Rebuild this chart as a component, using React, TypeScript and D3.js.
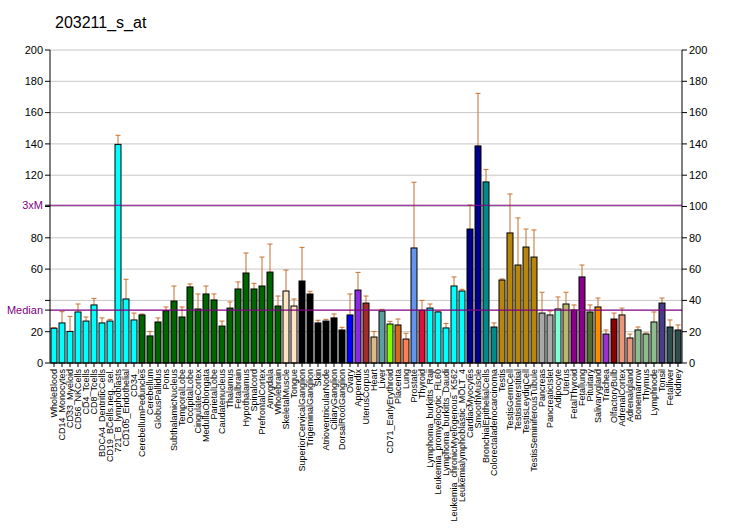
import React from "react";
import * as d3 from "d3";

const title = "203211_s_at";

const categories = [
  "WholeBlood", "CD14_Monocytes", "CD33_Myeloid", "CD56_NKCells", "CD4_Tcells", "CD8_Tcells",
  "BDCA4_DentriticCells", "CD19_BCells.neg._sel.", "721_B_lymphoblasts", "CD105_Endothelial", "CD34_",
  "CerebellumPeduncles", "Cerebellum", "GlobusPallidus", "Pons", "SubthalamicNucleus", "TemporalLobe",
  "OccipitalLobe", "CingulateCortex", "MedullaOblongata", "ParietalLobe", "Caudatenucleus", "Thalamus",
  "Fetalbrain", "Hypothalamus", "Spinalcord", "PrefrontalCortex", "Amygdala", "Wholebrain",
  "SkeletalMuscle", "Tongue", "SuperiorCervicalGanglion", "TrigeminalGanglion", "Skin",
  "AtrioventricularNode", "CiliaryGanglion", "DorsalRootGanglion", "Ovary", "Appendix", "UterusCorpus",
  "Heart", "Liver", "CD71_EarlyErythroid", "Placenta", "Lung", "Prostate", "Thyroid",
  "Lymphoma_burkitts_Raji", "Leukemia_promyelocytic_HL60", "Lymphoma_burkitts_Daudi",
  "Leukemia_chronicMyelogenous_K562", "Leukemialymphoblastic_MOLT_4", "CardiacMyocytes", "SmoothMuscle",
  "BronchialEpithelialCells", "Colorectaladenocarcinoma", "Testis", "TestisGermCell", "TestisInterstitial",
  "TestisLeydigCell", "TestisSeminiferousTubule", "Pancreas", "PancreaticIslet", "Adipocyte", "Uterus",
  "FetalThyroid", "Fetallung", "Pituitary", "Salivarygland", "Trachea", "OlfactoryBulb", "AdrenalCortex",
  "Adrenalgland", "Bonemarrow", "Thymus", "Lymphnode", "Tonsil", "Fetalliver", "Kidney",
];

const values = [
  22.2, 25.6, 20.2, 32.6, 26.8, 37.1, 25.6, 26.8, 139.7, 40.9, 27.5,
  30.7, 17.3, 26.2, 33.4, 39.6, 29.4, 48.6, 34.5, 44.1, 40.3, 23.6, 35.1,
  47.3, 57.5, 47.3, 49.2, 58.1, 36.4,
  46.0, 36.4, 52.4, 44.1, 25.6, 26.8, 28.8, 21.1, 30.7, 46.6, 38.3,
  16.6, 33.2, 24.9, 24.3, 15.3, 73.5, 33.7,
  35.1, 32.6, 22.4, 49.2, 46.0, 85.6, 138.7, 115.7, 23.0,
  53.0, 83.1, 62.6, 74.1, 67.7, 31.9, 30.7, 34.5, 37.7,
  33.9, 55.0, 32.6, 35.8, 18.5, 28.1, 30.7, 16.0, 21.1, 18.5, 26.2, 38.3, 23.0, 21.1,
];

const errorTops = [
  22.6, 32.8, 29.8, 37.7, 29.4, 41.3, 28.8, 27.9, 145.5, 53.5, 31.9,
  31.3, 20.2, 28.8, 35.8, 49.2, 35.8, 50.5, 44.1, 49.2, 44.1, 26.8, 39.0,
  51.8, 70.3, 50.9, 67.7, 76.0, 42.8,
  59.4, 40.9, 73.9, 45.8, 27.3, 27.9, 31.3, 22.8, 44.1, 57.9, 42.8,
  20.2, 34.3, 26.6, 28.1, 19.0, 115.5, 40.0,
  37.7, 33.0, 25.3, 55.0, 47.1, 100.9, 172.3, 123.7, 25.6,
  53.7, 108.0, 92.7, 85.6, 85.0, 45.2, 33.2, 42.2, 45.2,
  37.1, 62.6, 37.1, 41.5, 21.1, 31.9, 35.1, 18.5, 23.0, 19.2, 32.6, 41.5, 27.5, 24.3,
];

const colors = [
  ...Array(11).fill("#00FFFF"),
  ...Array(18).fill("#006400"),
  "#FFE4C4", "#FFE4C4",
  ...Array(6).fill("#000000"),
  "#0000FF", "#8A2BE2", "#A52A2A", "#DEB887", "#5F9EA0", "#7FFF00", "#D2691E", "#FF7F50", "#6495ED", "#DC143C",
  ...Array(5).fill("#00FFFF"),
  "#00008B", "#00008B", "#008B8B", "#008B8B",
  ...Array(5).fill("#B8860B"),
  "#A9A9A9", "#A9A9A9", "#7FFFD4", "#BDB76B", "#8B008B", "#8B008B", "#556B2F", "#FF8C00", "#9932CC", "#8B0000",
  "#E9967A", "#E9967A", "#8FBC8F", "#8FBC8F", "#8FBC8F", "#483D8B", "#2F4F4F", "#2F4F4F",
];

const yTicks = [0, 20, 40, 60, 80, 100, 120, 140, 160, 180, 200];
const medianValue = 33.8;
const threeXMValue = 100.8;

const W = 732, H = 530;
const left = 50, right = 682, top = 50, bottom = 363;
const FONT = "Arial, 'Liberation Sans', sans-serif";

export default function App() {
  const x = d3.scaleBand<string>().domain(categories).range([left, right]).paddingInner(0.2).paddingOuter(0.1);
  const y = d3.scaleLinear().domain([0, 200]).range([bottom, top]);
  const slot = (right - left) / categories.length;
  const purple = "#800080";
  const errColor = "#C8702F";

  const leftLabel = (t: number) => {
    if (t === 40) return null;
    if (t === 100) return null;
    return String(t);
  };

  return (
    <svg width={W} height={H} style={{ position: "absolute", left: 0, top: 0, background: "#fff" }}
      xmlns="http://www.w3.org/2000/svg">
      <rect x={0} y={0} width={W} height={H} fill="#fff" />
      <text x={55} y={28} fontFamily={FONT} fontSize={16} fill="#000">{title}</text>

      {/* grid */}
      {yTicks.map((t) => (
        <line key={"g" + t} x1={left} x2={right} y1={y(t)} y2={y(t)} stroke="#C8C8C8" strokeWidth={1} />
      ))}

      {/* bars */}
      {categories.map((c, i) => {
        const cx = left + slot * (i + 0.5);
        const bw = slot - 2;
        return (
          <g key={c}>
            <line x1={cx} x2={cx} y1={y(values[i])} y2={y(errorTops[i])} stroke={errColor} strokeWidth={1} />
            <line x1={cx - 2.5} x2={cx + 2.5} y1={y(errorTops[i])} y2={y(errorTops[i])} stroke={errColor} strokeWidth={1} />
            <rect x={cx - bw / 2} y={y(values[i])} width={bw} height={bottom - y(values[i])}
              fill={colors[i]} stroke="#000" strokeWidth={1} />
          </g>
        );
      })}

      {/* reference lines */}
      <line x1={left} x2={right} y1={y(threeXMValue)} y2={y(threeXMValue)} stroke={purple} strokeWidth={1.2} />
      <line x1={left} x2={right} y1={y(medianValue)} y2={y(medianValue)} stroke={purple} strokeWidth={1.2} />

      {/* left axis */}
      <line x1={left} x2={left} y1={top} y2={bottom} stroke="#000" />
      {yTicks.map((t) => (
        <g key={"l" + t}>
          <line x1={left - 5} x2={left} y1={y(t)} y2={y(t)} stroke="#000" />
          {leftLabel(t) && (
            <text x={left - 7} y={y(t)} dy="0.35em" textAnchor="end" fontFamily={FONT} fontSize={11} fill="#000">
              {leftLabel(t)}
            </text>
          )}
        </g>
      ))}
      <line x1={left - 5} x2={left} y1={y(threeXMValue)} y2={y(threeXMValue)} stroke="#000" />
      <text x={left - 7} y={y(threeXMValue)} dy="0.35em" textAnchor="end" fontFamily={FONT} fontSize={11} fill={purple}>3xM</text>
      <line x1={left - 5} x2={left} y1={y(medianValue)} y2={y(medianValue)} stroke="#000" />
      <text x={left - 7} y={y(medianValue)} dy="0.35em" textAnchor="end" fontFamily={FONT} fontSize={11} fill={purple}>Median</text>

      {/* right axis */}
      <line x1={right} x2={right} y1={top} y2={bottom} stroke="#000" />
      {yTicks.map((t) => (
        <g key={"r" + t}>
          <line x1={right} x2={right + 5} y1={y(t)} y2={y(t)} stroke="#000" />
          <text x={right + 7} y={y(t)} dy="0.35em" textAnchor="start" fontFamily={FONT} fontSize={11} fill="#000">{t}</text>
        </g>
      ))}

      {/* x axis */}
      <line x1={left} x2={right} y1={bottom} y2={bottom} stroke="#000" />
      {categories.map((c, i) => {
        const cx = left + slot * (i + 0.5);
        return (
          <g key={"x" + c}>
            <line x1={cx} x2={cx} y1={bottom} y2={bottom + 4} stroke="#000" />
            <text transform={`translate(${cx + 3},${bottom + 6}) rotate(-90)`} textAnchor="end"
              fontFamily={FONT} fontSize={9} fill="#000">{c}</text>
          </g>
        );
      })}
    </svg>
  );
}
